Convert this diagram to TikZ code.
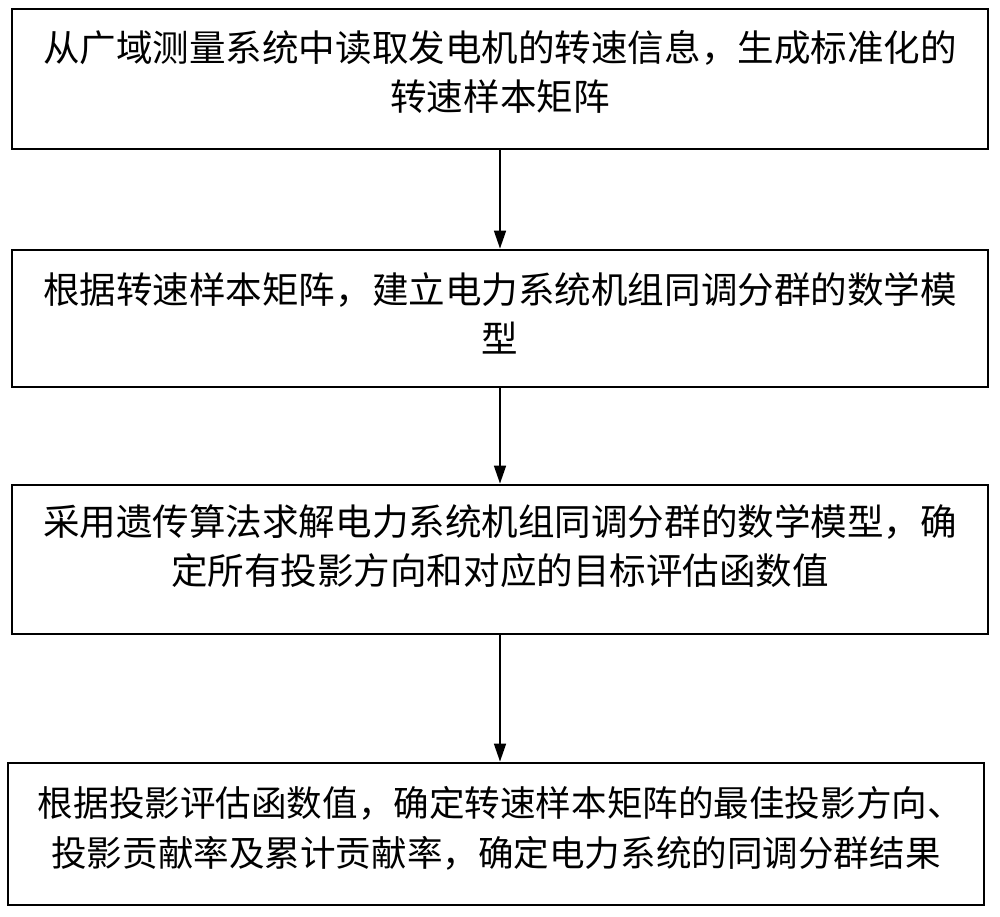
\documentclass[tikz,border=0pt]{standalone}
\usepackage{fontspec}
\newfontfamily\cjk{Noto Sans CJK SC}
\usepackage{tikz}
\usetikzlibrary{arrows.meta}

\begin{document}
\begin{tikzpicture}[
            > = {Triangle[length=0.45cm,width=0.3cm]}, % arrow head style
            line width = 1.2pt, % line style
            box/.style = {shape=rectangle, draw=black, line width=2pt, minimum width=24.4cm,
                          text width=22.9cm, align=center, inner sep=0pt,
                          font=\cjk\fontsize{26pt}{35pt}\selectfont}
        ]
\useasboundingbox (0,0) rectangle (25,-22.925);

\node[box, minimum height=3.5cm, text depth=1.66cm] (read) at (12.5,-1.975) {从广域测量系统中读取发电机的转速信息，生成标准化的\\转速样本矩阵};
\node[box, minimum height=3.425cm, text depth=1.535cm] (model) at (12.5,-7.9625) {根据转速样本矩阵，建立电力系统机组同调分群的数学模\\型};
\node[box, minimum height=3.725cm, text depth=1.985cm] (solve) at (12.5,-13.9875) {采用遗传算法求解电力系统机组同调分群的数学模型，确\\定所有投影方向和对应的目标评估函数值};
\node[box, minimum height=3.55cm, text depth=1.61cm, font=\cjk\fontsize{25.3pt}{35pt}\selectfont] (result) at (12.4,-20.85) {根据投影评估函数值，确定转速样本矩阵的最佳投影方向、\\投影贡献率及累计贡献率，确定电力系统的同调分群结果};

 \path [->] (read) edge (model);
 \path [->] (model) edge (solve);
 \path [->] (solve) edge (solve |- result.north);
\end{tikzpicture}
\end{document}
